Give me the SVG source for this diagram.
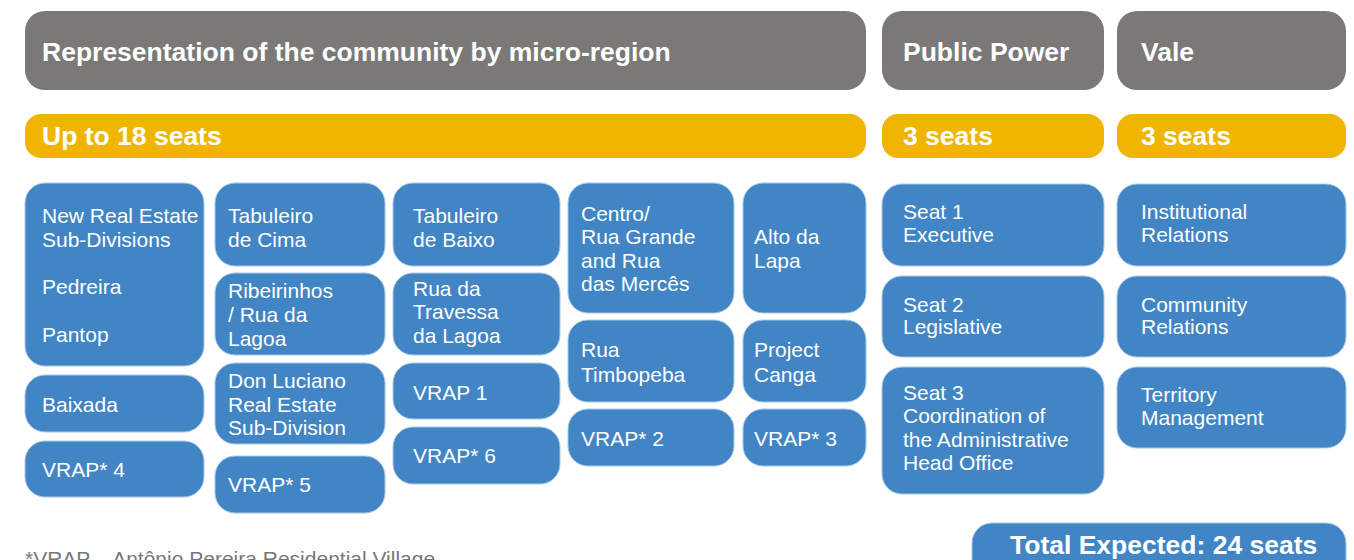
<svg xmlns="http://www.w3.org/2000/svg" width="1354" height="560" viewBox="0 0 1354 560">
<style>
.hdr{fill:#7b7977}
.yel{fill:#f0b500}
.box{fill:#4185c5;stroke:#a9c8e6;stroke-width:1}
.ht{font-family:"Liberation Sans",Arial,sans-serif;font-weight:bold;font-size:26.5px;fill:#fff}
.bt{font-family:"Liberation Sans",Arial,sans-serif;font-size:21px;fill:#fff}
.fn{font-family:"Liberation Sans",Arial,sans-serif;font-size:21px;fill:#777}
</style>
<rect width="1354" height="560" fill="#fff"/>
<g id="header-community"><rect class="hdr" x="25" y="11" width="841" height="79" rx="20"/><text class="ht" x="42" y="60.5">Representation of the community by micro-region</text></g>
<g id="header-public"><rect class="hdr" x="882" y="11" width="222" height="79" rx="20"/><text class="ht" x="903" y="60.5">Public Power</text></g>
<g id="header-vale"><rect class="hdr" x="1117" y="11" width="229" height="79" rx="20"/><text class="ht" x="1141" y="60.5">Vale</text></g>
<g id="seats-community"><rect class="yel" x="25" y="114" width="841" height="44" rx="16"/><text class="ht" x="42" y="145">Up to 18 seats</text></g>
<g id="seats-public"><rect class="yel" x="882" y="114" width="222" height="44" rx="16"/><text class="ht" x="903" y="145">3 seats</text></g>
<g id="seats-vale"><rect class="yel" x="1117" y="114" width="229" height="44" rx="16"/><text class="ht" x="1141" y="145">3 seats</text></g>

<g id="n-new-real-estate"><rect class="box" x="25" y="183" width="179" height="183" rx="20"/><text class="bt" x="42"><tspan x="42" y="223">New Real Estate</tspan><tspan x="42" y="247">Sub-Divisions</tspan><tspan x="42" y="294">Pedreira</tspan><tspan x="42" y="342">Pantop</tspan></text></g>
<g id="n-baixada"><rect class="box" x="25" y="375" width="179" height="57" rx="20"/><text class="bt" x="42" y="412">Baixada</text></g>
<g id="n-vrap4"><rect class="box" x="25" y="441" width="179" height="56" rx="20"/><text class="bt" x="42" y="477">VRAP* 4</text></g>

<g id="n-tabuleiro-cima"><rect class="box" x="215" y="183" width="170" height="83" rx="20"/><text class="bt"><tspan x="228" y="223">Tabuleiro</tspan><tspan x="228" y="247">de Cima</tspan></text></g>
<g id="n-ribeirinhos"><rect class="box" x="215" y="273" width="170" height="82" rx="20"/><text class="bt"><tspan x="228" y="298">Ribeirinhos</tspan><tspan x="228" y="322">/ Rua da</tspan><tspan x="228" y="346">Lagoa</tspan></text></g>
<g id="n-don-luciano"><rect class="box" x="215" y="363" width="170" height="81" rx="20"/><text class="bt"><tspan x="228" y="388">Don Luciano</tspan><tspan x="228" y="412">Real Estate</tspan><tspan x="228" y="435">Sub-Division</tspan></text></g>
<g id="n-vrap5"><rect class="box" x="215" y="456" width="170" height="57" rx="20"/><text class="bt" x="228" y="492">VRAP* 5</text></g>

<g id="n-tabuleiro-baixo"><rect class="box" x="393" y="183" width="167" height="83" rx="20"/><text class="bt"><tspan x="413" y="223">Tabuleiro</tspan><tspan x="413" y="247">de Baixo</tspan></text></g>
<g id="n-travessa"><rect class="box" x="393" y="273" width="167" height="82" rx="20"/><text class="bt"><tspan x="413" y="296">Rua da</tspan><tspan x="413" y="319">Travessa</tspan><tspan x="413" y="343">da Lagoa</tspan></text></g>
<g id="n-vrap1"><rect class="box" x="393" y="363" width="167" height="56" rx="20"/><text class="bt" x="413" y="400">VRAP 1</text></g>
<g id="n-vrap6"><rect class="box" x="393" y="427" width="167" height="57" rx="20"/><text class="bt" x="413" y="463">VRAP* 6</text></g>

<g id="n-centro"><rect class="box" x="568" y="183" width="166" height="130" rx="20"/><text class="bt"><tspan x="581" y="221">Centro/</tspan><tspan x="581" y="244">Rua Grande</tspan><tspan x="581" y="268">and Rua</tspan><tspan x="581" y="291">das Mercês</tspan></text></g>
<g id="n-timbopeba"><rect class="box" x="568" y="320" width="166" height="82" rx="20"/><text class="bt"><tspan x="581" y="357">Rua</tspan><tspan x="581" y="382">Timbopeba</tspan></text></g>
<g id="n-vrap2"><rect class="box" x="568" y="409" width="166" height="57" rx="20"/><text class="bt" x="581" y="446">VRAP* 2</text></g>

<g id="n-alto-lapa"><rect class="box" x="743" y="183" width="123" height="130" rx="20"/><text class="bt"><tspan x="754" y="244">Alto da</tspan><tspan x="754" y="268">Lapa</tspan></text></g>
<g id="n-canga"><rect class="box" x="743" y="320" width="123" height="82" rx="20"/><text class="bt"><tspan x="754" y="357">Project</tspan><tspan x="754" y="382">Canga</tspan></text></g>
<g id="n-vrap3"><rect class="box" x="743" y="409" width="123" height="57" rx="20"/><text class="bt" x="754" y="446">VRAP* 3</text></g>

<g id="n-seat1"><rect class="box" x="882" y="184" width="222" height="82" rx="20"/><text class="bt"><tspan x="903" y="219">Seat 1</tspan><tspan x="903" y="242">Executive</tspan></text></g>
<g id="n-seat2"><rect class="box" x="882" y="276" width="222" height="81" rx="20"/><text class="bt"><tspan x="903" y="312">Seat 2</tspan><tspan x="903" y="334">Legislative</tspan></text></g>
<g id="n-seat3"><rect class="box" x="882" y="367" width="222" height="127" rx="20"/><text class="bt"><tspan x="903" y="400">Seat 3</tspan><tspan x="903" y="423">Coordination of</tspan><tspan x="903" y="447">the Administrative</tspan><tspan x="903" y="470">Head Office</tspan></text></g>

<g id="n-institutional"><rect class="box" x="1117" y="184" width="229" height="82" rx="20"/><text class="bt"><tspan x="1141" y="219">Institutional</tspan><tspan x="1141" y="242">Relations</tspan></text></g>
<g id="n-community"><rect class="box" x="1117" y="276" width="229" height="81" rx="20"/><text class="bt"><tspan x="1141" y="312">Community</tspan><tspan x="1141" y="334">Relations</tspan></text></g>
<g id="n-territory"><rect class="box" x="1117" y="367" width="229" height="81" rx="20"/><text class="bt"><tspan x="1141" y="402">Territory</tspan><tspan x="1141" y="425">Management</tspan></text></g>

<g id="n-total"><rect class="box" x="972" y="523" width="374" height="60" rx="20"/><text class="ht" x="1010" y="554">Total Expected: 24 seats</text></g>
<g id="footnote"><text class="fn" x="25" y="566">*VRAP – Antônio Pereira Residential Village</text></g>
<g id="connectors"></g>
</svg>
